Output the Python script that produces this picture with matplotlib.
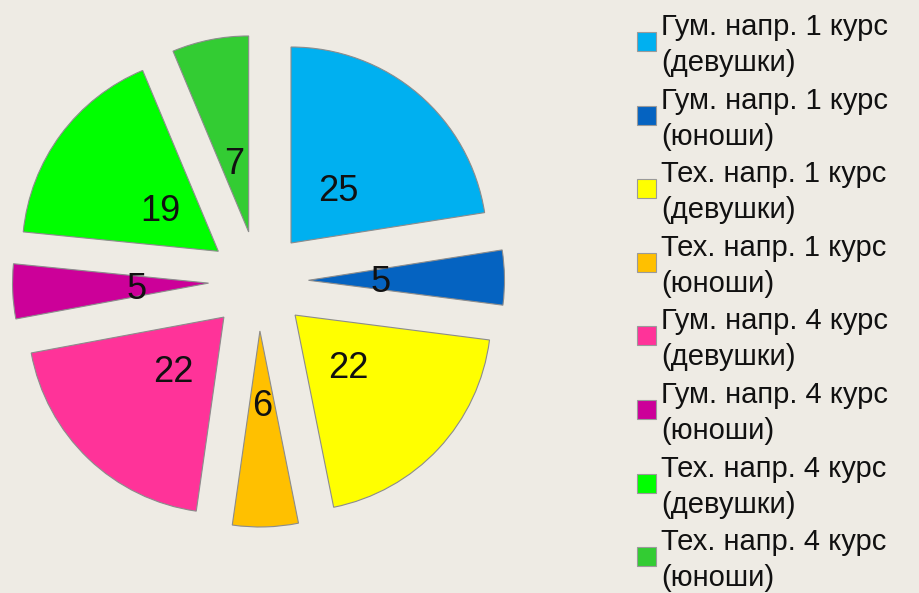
import matplotlib
matplotlib.use("Agg")
import matplotlib.pyplot as plt
from matplotlib.patches import Rectangle

# data
labels = [
    "Гум. напр. 1 курс\n(девушки)",
    "Гум. напр. 1 курс\n(юноши)",
    "Тех. напр. 1 курс\n(девушки)",
    "Тех. напр. 1 курс\n(юноши)",
    "Гум. напр. 4 курс\n(девушки)",
    "Гум. напр. 4 курс\n(юноши)",
    "Тех. напр. 4 курс\n(девушки)",
    "Тех. напр. 4 курс\n(юноши)",
]
values = [25, 5, 22, 6, 22, 5, 19, 7]
colors = ["#00B0F0", "#0563C1", "#FFFF00", "#FFC000",
          "#FF3399", "#CC0099", "#00FF00", "#33CC33"]

bg = "#EEEBE4"
plt.rcParams["font.family"] = ["Liberation Sans", "DejaVu Sans"]

W, H = 920, 593
fig = plt.figure(figsize=(W / 100, H / 100), dpi=100, facecolor=bg)
ax = fig.add_axes([0, 0, 1, 1])
ax.set_facecolor(bg)

# pie in pixel-like data units (y up)
radius = 196
center = (258.5, H - 281)
wedges, texts, autotexts = ax.pie(
    values, colors=colors, startangle=90, counterclock=False,
    radius=radius, center=center, explode=[50] * len(values),
    autopct=lambda p: "%d" % round(p * sum(values) / 100),
    pctdistance=0.37, frame=True,
    wedgeprops=dict(edgecolor="#8c8c8c", linewidth=0.8),
    textprops=dict(fontsize=26, color="#111111"),
)
for t in autotexts:
    x, y = t.get_position()
    t.set_position((x, y - 3.5))

# legend drawn entry by entry
step = 73.6
for i, (lab, col) in enumerate(zip(labels, colors)):
    base = 35 + step * i  # baseline of first line (pixels from top)
    sq_c = 41.5 + step * i
    ax.add_patch(Rectangle((637, H - sq_c - 9.5), 19, 19, facecolor=col,
                           edgecolor="#9a9a9a", linewidth=0.8))
    for j, line in enumerate(lab.split("\n")):
        ax.text(661, H - (base + 36 * j), line, fontsize=21, color="#111111",
                va="baseline", ha="left")

ax.set_xlim(0, W)
ax.set_ylim(0, H)
ax.set_aspect("auto")
ax.axis("off")

fig.savefig("out.png", dpi=100, facecolor=bg)
